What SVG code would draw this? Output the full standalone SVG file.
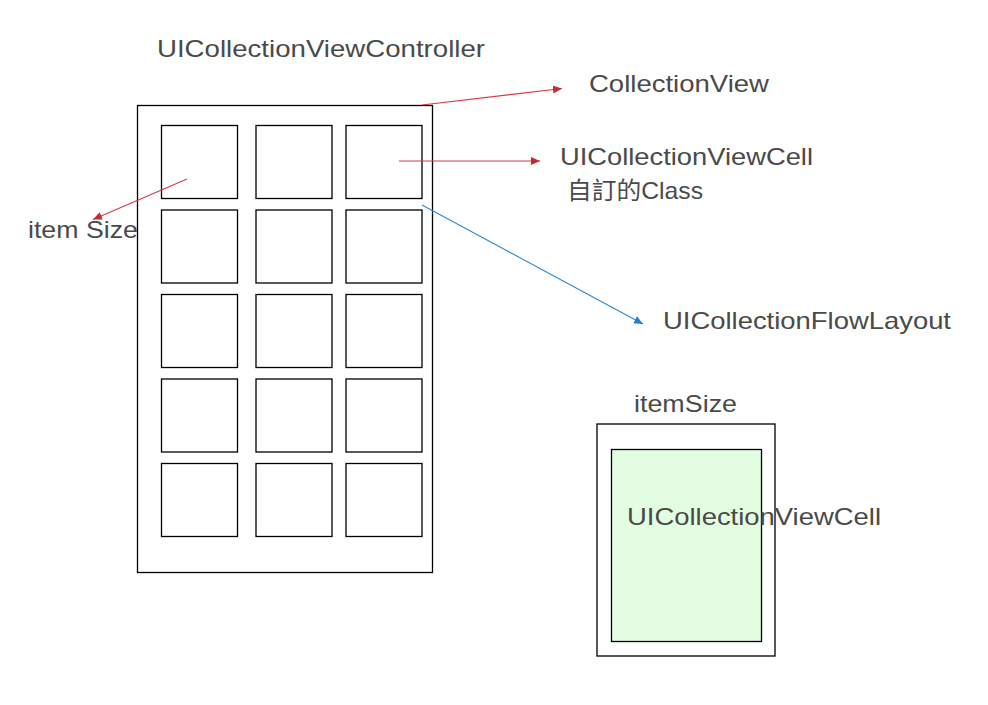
<svg xmlns="http://www.w3.org/2000/svg" width="988" height="705" viewBox="0 0 988 705">
<defs>
<style>
.box{fill:#fff;stroke:#000;stroke-width:1.3}
.lbl{font-family:"Liberation Sans","Noto Sans CJK TC",sans-serif;font-size:24px;fill:#4a4a4a}
.red{stroke:#d23c44;stroke-width:1.1;fill:none;marker-end:url(#ar)}
.blue{stroke:#2a88d4;stroke-width:1.1;fill:none;marker-end:url(#ab)}
</style>
<marker id="ar" markerUnits="userSpaceOnUse" markerWidth="10" markerHeight="10" refX="9" refY="4" orient="auto"><path d="M0,0 L9,4 L0,8 Z" fill="#c8282e"/></marker>
<marker id="ab" markerUnits="userSpaceOnUse" markerWidth="10" markerHeight="10" refX="9" refY="4" orient="auto"><path d="M0,0 L9,4 L0,8 Z" fill="#1f7fcf"/></marker>
</defs>
<rect width="988" height="705" fill="#fff"/>
<g id="controller">
<rect class="box" x="137.5" y="105.5" width="295" height="467"/>
<text class="lbl" x="157" y="57" textLength="328" lengthAdjust="spacingAndGlyphs">UICollectionViewController</text>
</g>
<g id="cells">
<rect class="box" x="161.5" y="125.5" width="76" height="73"/>
<rect class="box" x="256" y="125.5" width="76" height="73"/>
<rect class="box" x="346" y="125.5" width="76" height="73"/>
<rect class="box" x="161.5" y="210" width="76" height="73"/>
<rect class="box" x="256" y="210" width="76" height="73"/>
<rect class="box" x="346" y="210" width="76" height="73"/>
<rect class="box" x="161.5" y="294.5" width="76" height="73"/>
<rect class="box" x="256" y="294.5" width="76" height="73"/>
<rect class="box" x="346" y="294.5" width="76" height="73"/>
<rect class="box" x="161.5" y="379" width="76" height="73"/>
<rect class="box" x="256" y="379" width="76" height="73"/>
<rect class="box" x="346" y="379" width="76" height="73"/>
<rect class="box" x="161.5" y="463.5" width="76" height="73"/>
<rect class="box" x="256" y="463.5" width="76" height="73"/>
<rect class="box" x="346" y="463.5" width="76" height="73"/>
</g>
<g id="itemsize-box">
<rect class="box" x="597" y="424" width="178" height="232"/>
<rect x="611.5" y="449.5" width="150" height="192" fill="#e3fde3" stroke="#000" stroke-width="1.3"/>
<text class="lbl" x="634" y="412" textLength="103" lengthAdjust="spacingAndGlyphs">itemSize</text>
<text class="lbl" x="627" y="525" textLength="254" lengthAdjust="spacingAndGlyphs">UICollectionViewCell</text>
</g>
<g id="labels">
<text class="lbl" x="589" y="92" textLength="180" lengthAdjust="spacingAndGlyphs">CollectionView</text>
<text class="lbl" x="560" y="165" textLength="253" lengthAdjust="spacingAndGlyphs">UICollectionViewCell</text>
<text class="lbl" x="567" y="199" textLength="136" lengthAdjust="spacingAndGlyphs">自訂的Class</text>
<text class="lbl" x="28" y="238" textLength="110" lengthAdjust="spacingAndGlyphs">item Size</text>
<text class="lbl" x="663" y="329" textLength="288" lengthAdjust="spacingAndGlyphs">UICollectionFlowLayout</text>
</g>
<g id="connectors">
<line class="red" x1="422" y1="105" x2="562" y2="88.5"/>
<line class="red" x1="399" y1="161" x2="540" y2="161"/>
<line class="red" x1="187" y1="179" x2="93" y2="219.5"/>
<line class="blue" x1="422" y1="205" x2="643" y2="324"/>
</g>
</svg>
